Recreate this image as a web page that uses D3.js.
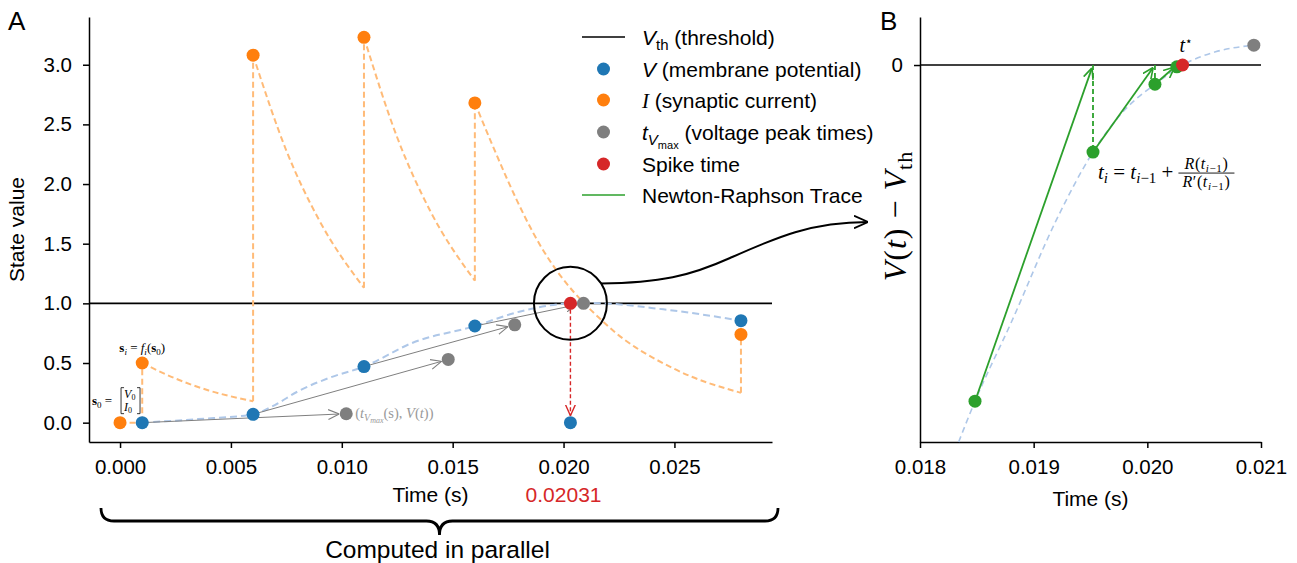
<!DOCTYPE html>
<html>
<head>
<meta charset="utf-8">
<script src="https://cdn.jsdelivr.net/npm/d3@7"></script>
<style>
body { margin: 0; background: #fff; }
svg { font-family: "Liberation Sans", Arial, sans-serif; }
.axis path, .axis line { stroke: #000; stroke-width: 1.5; }
.axis text { font-size: 20.5px; fill: #000; font-family: "Liberation Sans", Arial, sans-serif; }
.math { font-family: "Liberation Serif", "DejaVu Serif", serif; }
</style>
</head>
<body>
<div id="chart"></div>
<script>
// ---- panel A data ----
var xTicksA = [0, 0.005, 0.010, 0.015, 0.020, 0.025];
var yTicksA = [0, 0.5, 1.0, 1.5, 2.0, 2.5, 3.0];
var threshold = 1.0;
var spikeTime = 0.02031;

// synaptic current I: values right after each input
var iTimes  = [0, 0.001, 0.006, 0.011, 0.016, 0.028];
var iValues = [0, 0.50, 3.08, 3.23, 2.68, 0.74];
// decaying current between inputs
var iDecay = [
  [[0, 0], [0.001, 0]],
  [[0.001, 0.50], [0.0025, 0.37], [0.004, 0.27], [0.006, 0.18]],
  [[0.006, 3.08], [0.0075, 2.28], [0.009, 1.69], [0.011, 1.13]],
  [[0.011, 3.23], [0.0125, 2.39], [0.014, 1.77], [0.016, 1.19]],
  [[0.016, 2.68], [0.019, 1.47], [0.022, 0.81], [0.025, 0.45], [0.028, 0.25]]
];
// jumps of the current at each input: [time, before, after]
var iJumps = [[0.001, 0, 0.50], [0.006, 0.18, 3.08], [0.011, 1.13, 3.23], [0.016, 1.19, 2.68], [0.028, 0.25, 0.74]];

// membrane potential V at the evaluation points
var vTimes  = [0.001, 0.006, 0.011, 0.016, 0.02031, 0.028];
var vValues = [0, 0.07, 0.47, 0.81, 0, 0.855];
// dashed membrane trajectory
var vCurve = [[0.001, 0], [0.0035, 0.03], [0.006, 0.07], [0.007, 0.15], [0.008, 0.26], [0.0095, 0.38],
  [0.011, 0.47], [0.0132, 0.67], [0.016, 0.81], [0.018, 0.93], [0.02031, 1.0], [0.0212, 1.003],
  [0.0245, 0.95], [0.028, 0.855]];

// voltage peak times predicted from each state
var peakTimes  = [0.0102, 0.0148, 0.0178, 0.0209];
var peakValues = [0.075, 0.53, 0.82, 1.0];

// ---- panel B data ----
var xTicksB = [0.018, 0.019, 0.020, 0.021];
var yTicksB = [0];
var bCurve = [[0.01834, -0.0628], [0.018484, -0.056], [0.0188, -0.043], [0.0192, -0.0258], [0.019522, -0.0145],
  [0.0198, -0.0075], [0.020067, -0.0032], [0.02031, 0], [0.0206, 0.0022], [0.020937, 0.0033]];
var newtonTimes  = [0.018484, 0.019522, 0.020067, 0.02026];
var newtonValues = [-0.056, -0.0145, -0.0032, -0.0003];
var peakB = [0.020937, 0.0033];

var C = {blue: "#1f77b4", orange: "#ff7f0e", gray: "#7f7f7f", red: "#d62728", green: "#2ca02c",
         lightBlue: "#aec7e8", lightOrange: "#ffbb78"};

var svg = d3.select("#chart").append("svg")
    .attr("width", 1297).attr("height", 563);

var xA = d3.scaleLinear().domain([-0.0014, 0.0294]).range([89, 772]);
var yA = d3.scaleLinear().domain([-0.162, 3.40]).range([442, 17]);
var xB = d3.scaleLinear().domain([0.018, 0.021]).range([920, 1261]);
var yB = d3.scaleLinear().domain([-0.0628, 0.008]).range([442, 17]);

// arrow markers
var defs = svg.append("defs");
function marker(id, color, size, sw) {
  defs.append("marker")
      .attr("id", id)
      .attr("viewBox", "0 -5 10 10")
      .attr("refX", 10).attr("refY", 0)
      .attr("markerUnits", "userSpaceOnUse")
      .attr("markerWidth", size).attr("markerHeight", size)
      .attr("orient", "auto")
    .append("path")
      .attr("d", "M0,-4.5L10,0L0,4.5")
      .attr("fill", "none")
      .attr("stroke", color)
      .attr("stroke-width", sw);
}
marker("arGray", C.gray, 11, 1);
marker("arRed", C.red, 11, 1.3);
marker("arGreen", C.green, 11, 1.5);
marker("arBlack", "#000", 14, 1.3);

// shorten a segment at its ends by d0 / d1 px
function shorten(p0, p1, d0, d1) {
  var dx = p1[0] - p0[0], dy = p1[1] - p0[1], L = Math.sqrt(dx * dx + dy * dy);
  return [[p0[0] + dx * d0 / L, p0[1] + dy * d0 / L], [p1[0] - dx * d1 / L, p1[1] - dy * d1 / L]];
}

// ================= panel A =================
var gA = svg.append("g");

gA.append("g").attr("class", "axis")
    .attr("transform", "translate(0,442)")
    .call(d3.axisBottom(xA).tickValues(xTicksA).tickFormat(d3.format(".3f")).tickSize(6).tickSizeOuter(0).tickPadding(11));
gA.append("g").attr("class", "axis")
    .attr("transform", "translate(89,0)")
    .call(d3.axisLeft(yA).tickValues(yTicksA).tickFormat(d3.format(".1f")).tickSize(6).tickSizeOuter(0).tickPadding(11));

// threshold
gA.append("line")
    .attr("x1", 89).attr("x2", 772)
    .attr("y1", yA(threshold)).attr("y2", yA(threshold))
    .attr("stroke", "#000").attr("stroke-width", 1.6);

var lineA = d3.line().x(function(d) { return xA(d[0]); }).y(function(d) { return yA(d[1]); })
    .curve(d3.curveMonotoneX);

// current trace
gA.selectAll(".idecay").data(iDecay).enter().append("path")
    .attr("d", lineA)
    .attr("fill", "none").attr("stroke", C.lightOrange)
    .attr("stroke-width", 2).attr("stroke-dasharray", "6,3.5");
gA.selectAll(".ijump").data(iJumps).enter().append("line")
    .attr("x1", function(d) { return xA(d[0]); }).attr("x2", function(d) { return xA(d[0]); })
    .attr("y1", function(d) { return yA(d[1]); }).attr("y2", function(d) { return yA(d[2]); })
    .attr("stroke", C.lightOrange).attr("stroke-width", 2).attr("stroke-dasharray", "6,3.5");

// membrane trajectory
gA.append("path")
    .attr("d", lineA(vCurve))
    .attr("fill", "none").attr("stroke", C.lightBlue)
    .attr("stroke-width", 2).attr("stroke-dasharray", "7,4");

// arrows from states to predicted peaks
peakTimes.forEach(function(t, i) {
  var seg = shorten([xA(vTimes[i]), yA(vValues[i])], [xA(t), yA(peakValues[i])], 0, 7);
  gA.append("line")
      .attr("x1", seg[0][0]).attr("y1", seg[0][1])
      .attr("x2", seg[1][0]).attr("y2", seg[1][1])
      .attr("stroke", C.gray).attr("stroke-width", 1)
      .attr("marker-end", "url(#arGray)");
});

// spike reset arrow
gA.append("line")
    .attr("x1", xA(spikeTime)).attr("x2", xA(spikeTime))
    .attr("y1", yA(threshold)).attr("y2", yA(0) - 7)
    .attr("stroke", C.red).attr("stroke-width", 1.4).attr("stroke-dasharray", "4,2.5")
    .attr("marker-end", "url(#arRed)");

var R = 6.5;
gA.selectAll(".idot").data(iTimes).enter().append("circle")
    .attr("cx", function(d) { return xA(d); })
    .attr("cy", function(d, i) { return yA(iValues[i]); })
    .attr("r", R).attr("fill", C.orange);
gA.selectAll(".vdot").data(vTimes).enter().append("circle")
    .attr("cx", function(d) { return xA(d); })
    .attr("cy", function(d, i) { return yA(vValues[i]); })
    .attr("r", R).attr("fill", C.blue);
gA.append("circle")
    .attr("cx", xA(spikeTime)).attr("cy", yA(threshold))
    .attr("r", R).attr("fill", C.red);
gA.selectAll(".pdot").data(peakTimes).enter().append("circle")
    .attr("cx", function(d) { return xA(d); })
    .attr("cy", function(d, i) { return yA(peakValues[i]); })
    .attr("r", R).attr("fill", C.gray);

// zoom circle and connector to panel B
var cx = xA(spikeTime), cy = yA(threshold), cr = 36.5;
gA.append("circle")
    .attr("cx", cx).attr("cy", cy).attr("r", cr)
    .attr("fill", "none").attr("stroke", "#000").attr("stroke-width", 2);
var a0 = -33 * Math.PI / 180;
var s0 = [cx + cr * Math.cos(a0), cy + cr * Math.sin(a0)];
svg.append("path")
    .attr("d", "M" + s0[0] + "," + s0[1] + "C660,283 690,276 730,258C775,238 810,222 " + (xB.range()[0] - 52) + ",222")
    .attr("fill", "none").attr("stroke", "#000").attr("stroke-width", 2)
    .attr("marker-end", "url(#arBlack)");

// annotations
var tA = gA.append("text").attr("class", "math")
    .attr("x", xA(0.001)).attr("y", yA(0.5) - 11)
    .attr("text-anchor", "middle").style("font-size", "13px");
tA.append("tspan").style("font-weight", "bold").text("s");
tA.append("tspan").attr("dy", 3).style("font-size", "9px").style("font-style", "italic").text("i");
tA.append("tspan").attr("dy", -3).text(" = ");
tA.append("tspan").style("font-style", "italic").text("f");
tA.append("tspan").attr("dy", 3).style("font-size", "9px").style("font-style", "italic").text("i");
tA.append("tspan").attr("dy", -3).text("(");
tA.append("tspan").style("font-weight", "bold").text("s");
tA.append("tspan").attr("dy", 3).style("font-size", "9px").text("0");
tA.append("tspan").attr("dy", -3).text(")");

var s0t = gA.append("text").attr("class", "math")
    .attr("x", xA(0) - 28).attr("y", yA(0) - 18)
    .style("font-size", "13px");
s0t.append("tspan").style("font-weight", "bold").text("s");
s0t.append("tspan").attr("dy", 3).style("font-size", "9px").text("0");
s0t.append("tspan").attr("dy", -3).text(" =");
var bx0 = xA(0) + 1, bx1 = xA(0) + 20, by0 = yA(0) - 35, by1 = yA(0) - 9;
gA.append("path")
    .attr("d", "M" + (bx0 + 3) + "," + by0 + "H" + bx0 + "V" + by1 + "H" + (bx0 + 3) +
               "M" + (bx1 - 3) + "," + by0 + "H" + bx1 + "V" + by1 + "H" + (bx1 - 3))
    .attr("fill", "none").attr("stroke", "#000").attr("stroke-width", 0.8);
[["V", by0 + 10], ["I", by0 + 23]].forEach(function(m) {
  var t = gA.append("text").attr("class", "math")
      .attr("x", bx0 + 3).attr("y", m[1]).style("font-size", "12px");
  t.append("tspan").style("font-style", "italic").text(m[0]);
  t.append("tspan").attr("dy", 2).style("font-size", "8px").text("0");
});

var gl = gA.append("text").attr("class", "math")
    .attr("x", xA(peakTimes[0]) + 9).attr("y", yA(peakValues[0]) + 4.5)
    .style("font-size", "14.5px").attr("fill", "#999");
gl.append("tspan").text("(");
gl.append("tspan").style("font-style", "italic").text("t");
gl.append("tspan").attr("dy", 3).style("font-size", "10px").style("font-style", "italic").text("V");
gl.append("tspan").attr("dy", 2).style("font-size", "8px").style("font-style", "italic").text("max");
gl.append("tspan").attr("dy", -5).text("(s), ");
gl.append("tspan").style("font-style", "italic").text("V");
gl.append("tspan").text("(");
gl.append("tspan").style("font-style", "italic").text("t");
gl.append("tspan").text("))");

// labels
svg.append("text").attr("x", 8).attr("y", 30).style("font-size", "26px").text("A");
svg.append("text")
    .attr("transform", "translate(24,229.5) rotate(-90)")
    .attr("text-anchor", "middle").style("font-size", "21px").text("State value");
svg.append("text").attr("x", 430.5).attr("y", 501.5)
    .attr("text-anchor", "middle").style("font-size", "21px").text("Time (s)");
svg.append("text").attr("x", xA(0.0200)).attr("y", 501.5)
    .attr("text-anchor", "middle").style("font-size", "21px").attr("fill", C.red)
    .text(d3.format(".5f")(spikeTime));

// brace
var bl = 101, br = 778, bt = 508, bm = 521, bb = 535, bc = (bl + br) / 2, q = 13;
svg.append("path")
    .attr("d", "M" + bl + "," + bt + "Q" + bl + "," + bm + " " + (bl + q) + "," + bm +
               "L" + (bc - q) + "," + bm + "Q" + bc + "," + bm + " " + bc + "," + bb +
               "Q" + bc + "," + bm + " " + (bc + q) + "," + bm +
               "L" + (br - q) + "," + bm + "Q" + br + "," + bm + " " + br + "," + bt)
    .attr("fill", "none").attr("stroke", "#000").attr("stroke-width", 2.8);
svg.append("text").attr("x", bc - 2).attr("y", 558)
    .attr("text-anchor", "middle").style("font-size", "24.5px").text("Computed in parallel");

// legend
var lg = svg.append("g").attr("transform", "translate(582,0)");
var rowsY = [37, 69, 100, 132, 164, 195];
lg.append("line").attr("x1", 0).attr("x2", 43).attr("y1", rowsY[0]).attr("y2", rowsY[0])
    .attr("stroke", "#000").attr("stroke-width", 1.6);
[C.blue, C.orange, C.gray, C.red].forEach(function(c, i) {
  lg.append("circle").attr("cx", 21.5).attr("cy", rowsY[i + 1]).attr("r", R).attr("fill", c);
});
lg.append("line").attr("x1", 0).attr("x2", 43).attr("y1", rowsY[5]).attr("y2", rowsY[5])
    .attr("stroke", C.green).attr("stroke-width", 1.6);
function legText(i) {
  return lg.append("text").attr("x", 60).attr("y", rowsY[i] + 7.5).style("font-size", "21px");
}
var l0 = legText(0);
l0.append("tspan").style("font-style", "italic").text("V");
l0.append("tspan").attr("dy", 5).style("font-size", "15px").text("th");
l0.append("tspan").attr("dy", -5).text(" (threshold)");
var l1 = legText(1);
l1.append("tspan").style("font-style", "italic").text("V");
l1.append("tspan").text(" (membrane potential)");
var l2 = legText(2);
l2.append("tspan").attr("class", "math").style("font-style", "italic").text("I");
l2.append("tspan").text(" (synaptic current)");
var l3 = legText(3);
l3.append("tspan").style("font-style", "italic").text("t");
l3.append("tspan").attr("dy", 5).style("font-size", "15px").style("font-style", "italic").text("V");
l3.append("tspan").attr("dy", 4).style("font-size", "11px").text("max");
l3.append("tspan").attr("dy", -9).text(" (voltage peak times)");
legText(4).text("Spike time");
legText(5).text("Newton-Raphson Trace");

// ================= panel B =================
var gB = svg.append("g");
gB.append("g").attr("class", "axis")
    .attr("transform", "translate(0,442)")
    .call(d3.axisBottom(xB).tickValues(xTicksB).tickFormat(d3.format(".3f")).tickSize(6).tickSizeOuter(0).tickPadding(11));
gB.append("g").attr("class", "axis")
    .attr("transform", "translate(920,0)")
    .call(d3.axisLeft(yB).tickValues(yTicksB).tickFormat(d3.format("d")).tickSize(6).tickSizeOuter(0).tickPadding(11));

gB.append("line")
    .attr("x1", 920).attr("x2", 1261).attr("y1", yB(0)).attr("y2", yB(0))
    .attr("stroke", "#000").attr("stroke-width", 1.6);

var lineB = d3.line().x(function(d) { return xB(d[0]); }).y(function(d) { return yB(d[1]); })
    .curve(d3.curveMonotoneX);
gB.append("path")
    .attr("d", lineB(bCurve))
    .attr("fill", "none").attr("stroke", C.lightBlue)
    .attr("stroke-width", 1.6).attr("stroke-dasharray", "6,4");

// Newton steps: tangent to the zero line, then drop back to the curve
for (var k = 0; k < newtonTimes.length - 1; k++) {
  var seg = shorten([xB(newtonTimes[k]), yB(newtonValues[k])], [xB(newtonTimes[k + 1]), yB(0)], 0, 3);
  gB.append("line")
      .attr("x1", seg[0][0]).attr("y1", seg[0][1])
      .attr("x2", seg[1][0]).attr("y2", seg[1][1])
      .attr("stroke", C.green).attr("stroke-width", 1.8)
      .attr("marker-end", "url(#arGreen)");
  gB.append("line")
      .attr("x1", xB(newtonTimes[k + 1])).attr("x2", xB(newtonTimes[k + 1]))
      .attr("y1", yB(0)).attr("y2", yB(newtonValues[k + 1]))
      .attr("stroke", C.green).attr("stroke-width", 1.8).attr("stroke-dasharray", "5,3");
}
gB.selectAll(".ndot").data(newtonTimes).enter().append("circle")
    .attr("cx", function(d) { return xB(d); })
    .attr("cy", function(d, i) { return yB(newtonValues[i]); })
    .attr("r", R).attr("fill", C.green);
gB.append("circle").attr("cx", xB(spikeTime)).attr("cy", yB(0)).attr("r", R).attr("fill", C.red);
gB.append("circle").attr("cx", xB(peakB[0])).attr("cy", yB(peakB[1])).attr("r", R).attr("fill", C.gray);

// t* label
var ts = gB.append("text").attr("class", "math")
    .attr("x", xB(spikeTime) - 3).attr("y", yB(0) - 13).style("font-size", "20px");
ts.append("tspan").style("font-style", "italic").text("t");
ts.append("tspan").attr("dy", -7).style("font-size", "12px").text("\u22c6");

// update formula
var fx = xB(newtonTimes[1]) + 5, fy = yB(newtonValues[1]) + 27;
var ft = gB.append("text").attr("class", "math").attr("x", fx).attr("y", fy).style("font-size", "21px");
ft.append("tspan").style("font-style", "italic").text("t");
ft.append("tspan").attr("dy", 4).style("font-size", "15px").style("font-style", "italic").text("i");
ft.append("tspan").attr("dy", -4).text(" = ");
ft.append("tspan").style("font-style", "italic").text("t");
ft.append("tspan").attr("dy", 4).style("font-size", "15px").style("font-style", "italic").text("i");
ft.append("tspan").style("font-size", "15px").text("\u22121");
ft.append("tspan").attr("dy", -4).text(" + ");
var fb = fx + ft.node().getComputedTextLength() + 5, fw = 56;
gB.append("line").attr("x1", fb).attr("x2", fb + fw).attr("y1", fy - 6).attr("y2", fy - 6)
    .attr("stroke", "#000").attr("stroke-width", 0.9);
[["R", fy - 10, ""], ["R", fy + 8, "\u2032"]].forEach(function(m) {
  var t = gB.append("text").attr("class", "math").attr("x", fb + fw / 2).attr("y", m[1])
      .attr("text-anchor", "middle").style("font-size", "16px").style("letter-spacing", "0.6px");
  t.append("tspan").style("font-style", "italic").text(m[0]);
  t.append("tspan").text(m[2] + "(");
  t.append("tspan").style("font-style", "italic").text("t");
  t.append("tspan").attr("dy", 2.5).style("font-size", "11px").style("font-style", "italic").text("i");
  t.append("tspan").style("font-size", "11px").text("\u22121");
  t.append("tspan").attr("dy", -2.5).text(")");
});

// B labels
svg.append("text").attr("x", 880).attr("y", 30).style("font-size", "26px").text("B");
var yl = svg.append("text").attr("class", "math")
    .attr("transform", "translate(906,216) rotate(-90)")
    .attr("text-anchor", "middle").style("font-size", "32px").style("letter-spacing", "1px");
yl.append("tspan").style("font-style", "italic").text("V");
yl.append("tspan").text("(");
yl.append("tspan").style("font-style", "italic").text("t");
yl.append("tspan").text(") \u2212 ");
yl.append("tspan").style("font-style", "italic").text("V");
yl.append("tspan").attr("dy", 6).style("font-size", "22px").text("th");
svg.append("text").attr("x", 1090.5).attr("y", 506)
    .attr("text-anchor", "middle").style("font-size", "21px").text("Time (s)");
</script>
</body>
</html>
